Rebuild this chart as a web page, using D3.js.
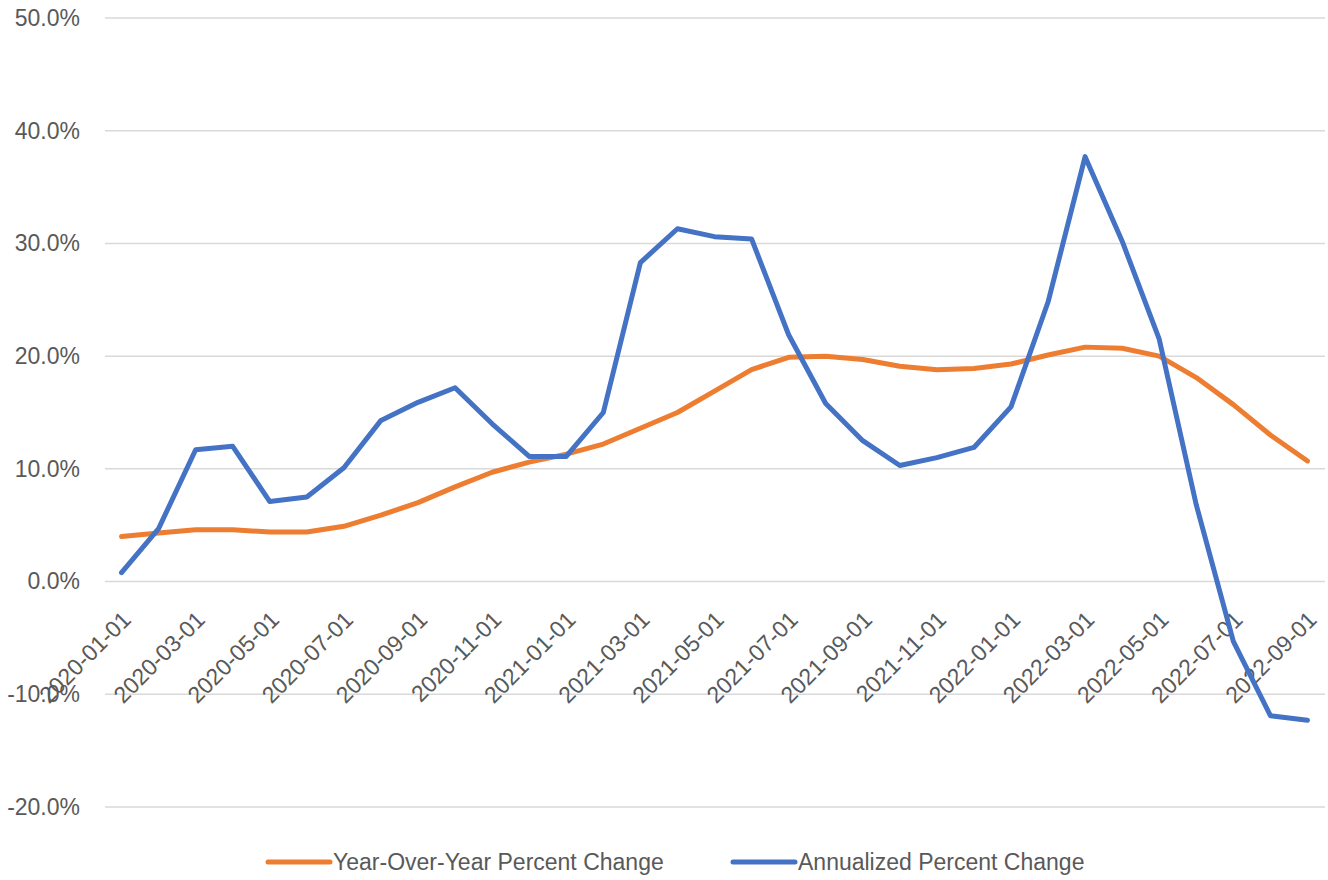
<!DOCTYPE html>
<html>
<head>
<meta charset="utf-8">
<script src="https://cdn.jsdelivr.net/npm/d3@7"></script>
<style>
  body { margin: 0; background: #fff; }
  text { font-family: "Liberation Sans", Arial, sans-serif; fill: #595959; }
</style>
</head>
<body>
<script>
// monthly categories 2020-01 .. 2022-09
const months = [
  "2020-01-01", "2020-02-01", "2020-03-01", "2020-04-01", "2020-05-01", "2020-06-01",
  "2020-07-01", "2020-08-01", "2020-09-01", "2020-10-01", "2020-11-01", "2020-12-01",
  "2021-01-01", "2021-02-01", "2021-03-01", "2021-04-01", "2021-05-01", "2021-06-01",
  "2021-07-01", "2021-08-01", "2021-09-01", "2021-10-01", "2021-11-01", "2021-12-01",
  "2022-01-01", "2022-02-01", "2022-03-01", "2022-04-01", "2022-05-01", "2022-06-01",
  "2022-07-01", "2022-08-01", "2022-09-01"
];

// values in percent
const yoyChange = [
  4.0, 4.3, 4.6, 4.6, 4.4, 4.4, 4.9, 5.9, 7.0, 8.4, 9.7, 10.6,
  11.3, 12.2, 13.6, 15.0, 16.9, 18.8, 19.9, 20.0, 19.7, 19.1, 18.8, 18.9,
  19.3, 20.1, 20.8, 20.7, 20.0, 18.1, 15.7, 13.0, 10.7
];
const annualizedChange = [
  0.8, 4.7, 11.7, 12.0, 7.1, 7.5, 10.1, 14.3, 15.9, 17.2, 14.0, 11.1,
  11.1, 15.0, 28.3, 31.3, 30.6, 30.4, 21.9, 15.8, 12.5, 10.3, 11.0, 11.9,
  15.5, 24.8, 37.7, 30.2, 21.5, 6.8, -5.3, -11.9, -12.3
];

const yTicks = [-20, -10, 0, 10, 20, 30, 40, 50];
const seriesNames = ["Year-Over-Year Percent Change", "Annualized Percent Change"];
const seriesColors = ["#ED7D31", "#4472C4"];

const width = 1328;
const height = 880;
const fontSize = 23;

const svg = d3.select("body").append("svg")
  .attr("width", width)
  .attr("height", height);

const x = d3.scalePoint()
  .domain(months)
  .range([103, 1326])
  .padding(0.5);

const y = d3.scaleLinear()
  .domain([-20, 50])
  .range([807, 18]);

// gridlines
svg.append("g")
  .selectAll("line")
  .data(yTicks)
  .join("line")
  .attr("x1", 105)
  .attr("x2", 1325)
  .attr("y1", (d) => y(d))
  .attr("y2", (d) => y(d))
  .attr("stroke", "#d9d9d9")
  .attr("stroke-width", 1.5);

// y axis labels (plain hyphen for negatives, like Excel)
const yAxis = d3.axisLeft(y)
  .tickValues(yTicks)
  .tickSize(0)
  .tickPadding(0)
  .tickFormat((d) => d.toFixed(1) + "%");

svg.append("g")
  .attr("transform", "translate(80,0)")
  .call(yAxis)
  .call((g) => g.select(".domain").remove())
  .selectAll("text")
  .attr("font-size", fontSize)
  .attr("font-family", null);

// x axis labels, every other month, rotated
const xLabels = months.filter((d, i) => i % 2 === 0);
svg.append("g")
  .selectAll("text")
  .data(xLabels)
  .join("text")
  .attr("transform", (d) => `translate(${x(d) + 5},${y(0) + 34}) rotate(-45)`)
  .attr("text-anchor", "end")
  .attr("dy", "0.35em")
  .attr("font-size", fontSize)
  .text((d) => d);

// lines
const line = d3.line()
  .x((d, i) => x(months[i]))
  .y((d) => y(d));

[yoyChange, annualizedChange].forEach((vals, k) => {
  svg.append("path")
    .datum(vals)
    .attr("fill", "none")
    .attr("stroke", seriesColors[k])
    .attr("stroke-width", 5)
    .attr("stroke-linejoin", "round")
    .attr("stroke-linecap", "round")
    .attr("d", line);
});

// legend
const legendX = [268, 733];
const legend = svg.append("g")
  .selectAll("g")
  .data(seriesNames)
  .join("g")
  .attr("transform", (d, i) => `translate(${legendX[i]},862)`);

legend.append("line")
  .attr("x1", 0)
  .attr("x2", 62)
  .attr("stroke", (d, i) => seriesColors[i])
  .attr("stroke-width", 5)
  .attr("stroke-linecap", "round");

legend.append("text")
  .attr("x", 65)
  .attr("dy", "0.35em")
  .attr("font-size", fontSize)
  .text((d) => d);
</script>
</body>
</html>
